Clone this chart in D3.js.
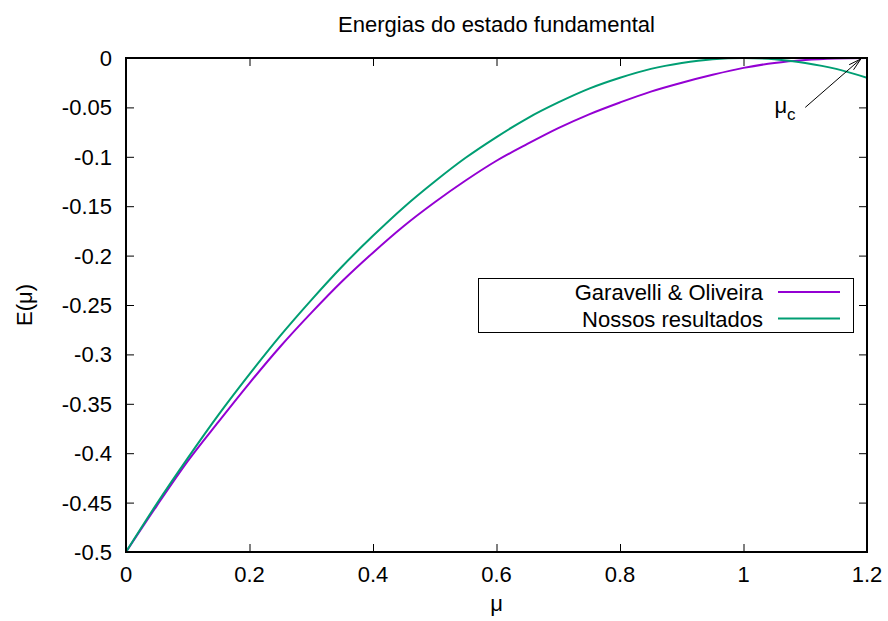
<!DOCTYPE html>
<html>
<head>
<meta charset="utf-8">
<script src="https://cdn.jsdelivr.net/npm/d3@7"></script>
<style>
  body { margin: 0; background: #fff; }
  text { font-family: "Liberation Sans", Arial, sans-serif; fill: #000; }
</style>
</head>
<body>
<div id="chart"></div>
<script>
// plot frame
const FRAME_WIDTH = 888;
const FRAME_HEIGHT = 621;
const MARGINS = {left: 126, right: 21, top: 58, bottom: 69};
const VIS_WIDTH = FRAME_WIDTH - MARGINS.left - MARGINS.right;
const VIS_HEIGHT = FRAME_HEIGHT - MARGINS.top - MARGINS.bottom;

// data
const mu = [0, 0.05, 0.1, 0.15, 0.2, 0.25, 0.3, 0.35, 0.4, 0.45, 0.5, 0.55, 0.6,
            0.65, 0.7, 0.75, 0.8, 0.85, 0.9, 0.95, 1.0, 1.05, 1.1, 1.15, 1.2];
const garavelli = [-0.5, -0.453, -0.408, -0.368, -0.329, -0.292, -0.258, -0.226, -0.197,
                   -0.170, -0.146, -0.124, -0.104, -0.087, -0.071, -0.057, -0.045, -0.034,
                   -0.025, -0.017, -0.010, -0.005, -0.002, -0.0005, 0];
const nossos = [-0.5, -0.451, -0.405, -0.361, -0.320, -0.281, -0.245, -0.211, -0.180,
                -0.151, -0.125, -0.101, -0.080, -0.061, -0.045, -0.031, -0.020, -0.011,
                -0.005, -0.0012, 0, -0.0012, -0.005, -0.011, -0.020];
const xTicks = [0, 0.2, 0.4, 0.6, 0.8, 1, 1.2];
const yTicks = [0, -0.05, -0.1, -0.15, -0.2, -0.25, -0.3, -0.35, -0.4, -0.45, -0.5];
const seriesNames = ["Garavelli & Oliveira", "Nossos resultados"];
const seriesColors = ["#9400d3", "#009e73"];

const FONT = 22;

const svg = d3.select("#chart").append("svg")
    .attr("width", FRAME_WIDTH)
    .attr("height", FRAME_HEIGHT);

const x = d3.scaleLinear().domain([0, 1.2]).range([MARGINS.left, MARGINS.left + VIS_WIDTH]);
const y = d3.scaleLinear().domain([-0.5, 0]).range([MARGINS.top + VIS_HEIGHT, MARGINS.top]);

// gnuplot style labels: plain hyphen, no trailing zeros
const fmt = d => String(+d.toFixed(2));

// tick marks, pointing inward, mirrored on top / right
svg.append("g")
    .attr("transform", "translate(0," + (MARGINS.top + VIS_HEIGHT) + ")")
    .call(d3.axisTop(x).tickValues(xTicks).tickSize(8).tickFormat(""))
    .call(g => g.select(".domain").remove());
svg.append("g")
    .attr("transform", "translate(0," + MARGINS.top + ")")
    .call(d3.axisBottom(x).tickValues(xTicks).tickSize(8).tickFormat(""))
    .call(g => g.select(".domain").remove());
svg.append("g")
    .attr("transform", "translate(" + MARGINS.left + ",0)")
    .call(d3.axisRight(y).tickValues(yTicks).tickSize(8).tickFormat(""))
    .call(g => g.select(".domain").remove());
svg.append("g")
    .attr("transform", "translate(" + (MARGINS.left + VIS_WIDTH) + ",0)")
    .call(d3.axisLeft(y).tickValues(yTicks).tickSize(8).tickFormat(""))
    .call(g => g.select(".domain").remove());
svg.selectAll(".tick line").attr("stroke", "#000").attr("stroke-width", 1);

// tick labels
svg.append("g").selectAll("text")
    .data(xTicks).join("text")
    .attr("x", d => x(d))
    .attr("y", MARGINS.top + VIS_HEIGHT + 30)
    .attr("text-anchor", "middle")
    .attr("font-size", FONT)
    .text(fmt);
svg.append("g").selectAll("text")
    .data(yTicks).join("text")
    .attr("x", MARGINS.left - 14)
    .attr("y", d => y(d) + 8)
    .attr("text-anchor", "end")
    .attr("font-size", FONT)
    .text(fmt);

// curves
const line = d3.line()
    .x(d => x(d[0]))
    .y(d => y(d[1]))
    .curve(d3.curveMonotoneX);

svg.append("clipPath").attr("id", "plotclip")
  .append("rect")
    .attr("x", MARGINS.left).attr("y", MARGINS.top)
    .attr("width", VIS_WIDTH).attr("height", VIS_HEIGHT);

[garavelli, nossos].forEach((vals, i) => {
  svg.append("path")
      .datum(mu.map((m, j) => [m, vals[j]]))
      .attr("d", line)
      .attr("fill", "none")
      .attr("stroke", seriesColors[i])
      .attr("stroke-width", 2)
      .attr("clip-path", "url(#plotclip)");
});

// border
svg.append("rect")
    .attr("x", MARGINS.left).attr("y", MARGINS.top)
    .attr("width", VIS_WIDTH).attr("height", VIS_HEIGHT)
    .attr("fill", "none")
    .attr("stroke", "#000")
    .attr("stroke-width", 2);

// legend
const legend = svg.append("g");
legend.append("rect")
    .attr("x", 478.5).attr("y", 278.5)
    .attr("width", 375).attr("height", 54)
    .attr("fill", "#fff")
    .attr("stroke", "#000")
    .attr("stroke-width", 1);
seriesNames.forEach((name, i) => {
  const ly = 292 + i * 26.5;
  legend.append("text")
      .attr("x", 763).attr("y", ly + 8)
      .attr("text-anchor", "end")
      .attr("font-size", FONT)
      .text(name);
  legend.append("line")
      .attr("x1", 778).attr("x2", 840)
      .attr("y1", ly).attr("y2", ly)
      .attr("stroke", seriesColors[i])
      .attr("stroke-width", 2);
});

// mu_c arrow
const ax0 = x(1.1), ay0 = y(-0.05), ax1 = x(1.19), ay1 = y(-0.001);
svg.append("line")
    .attr("x1", ax0).attr("y1", ay0).attr("x2", ax1).attr("y2", ay1)
    .attr("stroke", "#000").attr("stroke-width", 1);
const ang = Math.atan2(ay1 - ay0, ax1 - ax0);
[-0.26, 0.26].forEach(da => {
  svg.append("line")
      .attr("x1", ax1).attr("y1", ay1)
      .attr("x2", ax1 - 13 * Math.cos(ang + da))
      .attr("y2", ay1 - 13 * Math.sin(ang + da))
      .attr("stroke", "#000").attr("stroke-width", 1);
});
const muc = svg.append("text")
    .attr("x", x(1.05)).attr("y", 113)
    .attr("font-size", FONT)
    .text("μ");
muc.append("tspan")
    .attr("dy", 7)
    .attr("font-size", 17)
    .text("c");

// title and axis labels
svg.append("text")
    .attr("x", MARGINS.left + VIS_WIDTH / 2)
    .attr("y", 32)
    .attr("text-anchor", "middle")
    .attr("font-size", FONT)
    .text("Energias do estado fundamental");
svg.append("text")
    .attr("x", MARGINS.left + VIS_WIDTH / 2)
    .attr("y", 611)
    .attr("text-anchor", "middle")
    .attr("font-size", FONT)
    .text("μ");
svg.append("text")
    .attr("transform", "translate(32," + (MARGINS.top + VIS_HEIGHT / 2) + ") rotate(-90)")
    .attr("text-anchor", "middle")
    .attr("font-size", FONT)
    .text("E(μ)");
</script>
</body>
</html>
